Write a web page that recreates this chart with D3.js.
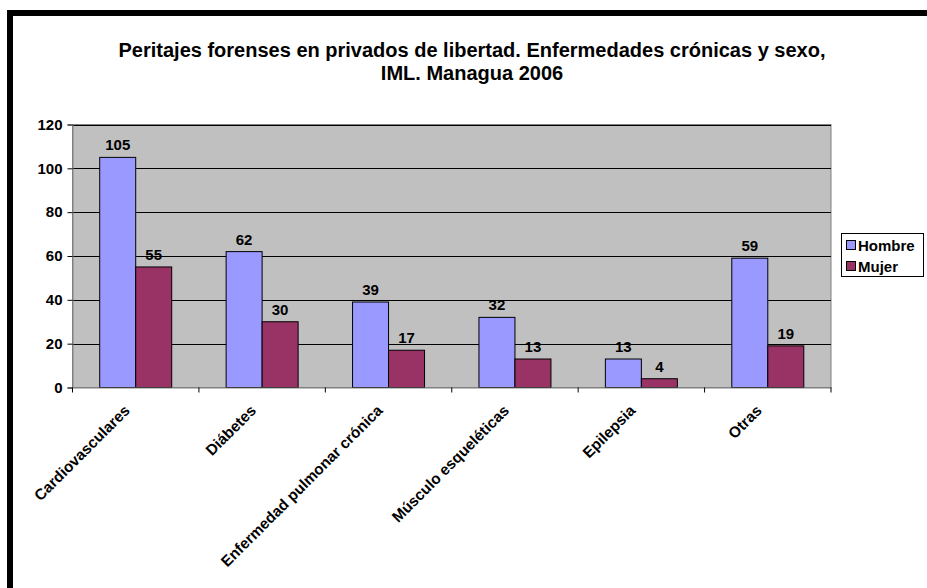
<!DOCTYPE html>
<html><head><meta charset="utf-8">
<script src="https://cdn.jsdelivr.net/npm/d3@7"></script>
<style>
body{margin:0;background:#fff;}
text{font-family:"Liberation Sans",Arial,sans-serif;font-weight:bold;}
</style></head>
<body><svg id="c" width="927" height="588"></svg>
<script>
const categories = ["Cardiovasculares","Diábetes","Enfermedad pulmonar crónica","Músculo esqueléticas","Epilepsia","Otras"];
const hombre = [105,62,39,32,13,59];
const mujer = [55,30,17,13,4,19];
const seriesNames = ["Hombre","Mujer"];
const seriesColors = ["#9999FF","#993366"];
const yTicks = [0,20,40,60,80,100,120];
const titleLines = ["Peritajes forenses en privados de libertad. Enfermedades crónicas y sexo,","IML. Managua 2006"];

const svg = d3.select("#c");
// frame
svg.append("rect").attr("x",7).attr("y",10).attr("width",920).attr("height",6).attr("fill","#000");
svg.append("rect").attr("x",7).attr("y",10).attr("width",6).attr("height",578).attr("fill","#000");

const L=72.5, R=831, T=124.5, B=387.5;
const x = d3.scaleBand().domain(categories).range([L,R]).paddingInner(0).paddingOuter(0);
const y = d3.scaleLinear().domain([0,120]).range([B,T]);
const sub = d3.scaleBand().domain(seriesNames).range([0,72]);

svg.append("rect").attr("x",L).attr("y",T).attr("width",R-L).attr("height",B-T).attr("fill","#C0C0C0").attr("stroke","#808080").attr("stroke-width",1);

// gridlines
svg.append("g").selectAll("line").data(yTicks.filter(d=>d>0)).join("line")
  .attr("x1",L).attr("x2",R).attr("y1",d=>Math.round(y(d))+0.5).attr("y2",d=>Math.round(y(d))+0.5)
  .attr("stroke","#000").attr("stroke-width",1);

// y axis
const ya = svg.append("g").attr("transform",`translate(${L},0)`)
  .call(d3.axisLeft(y).tickValues(yTicks).tickSize(5).tickPadding(5));
ya.select(".domain").attr("stroke","#808080");
ya.selectAll(".tick line").attr("stroke","#000");
ya.selectAll("text").attr("font-size",15).attr("fill","#000").attr("font-family","Liberation Sans, Arial").attr("font-weight","bold");

// bars
const data = categories.map((c,i)=>({c, vals:[hombre[i],mujer[i]]}));
const groups = svg.append("g").selectAll("g").data(data).join("g")
  .attr("transform",d=>`translate(${x(d.c)+x.bandwidth()/2-36},0)`);
groups.selectAll("rect").data(d=>d.vals.map((v,j)=>({v,s:seriesNames[j],j}))).join("rect")
  .attr("x",d=>sub(d.s)).attr("width",sub.bandwidth())
  .attr("y",d=>y(d.v)).attr("height",d=>B-y(d.v))
  .attr("fill",d=>seriesColors[d.j]).attr("stroke","#000").attr("stroke-width",1);
groups.selectAll("text").data(d=>d.vals.map((v,j)=>({v,s:seriesNames[j],j}))).join("text")
  .attr("x",d=>sub(d.s)+sub.bandwidth()/2).attr("y",d=>y(d.v)-7)
  .attr("text-anchor","middle").attr("font-size",15).attr("fill","#000").text(d=>d.v);

// x axis
const xa = svg.append("g").attr("transform",`translate(0,${B})`)
  .call(d3.axisBottom(x).tickSize(0).tickFormat(""));
xa.select(".domain").attr("stroke","#808080");
svg.append("g").selectAll("line").data(d3.range(categories.length+1)).join("line")
  .attr("x1",i=>L+i*x.bandwidth()).attr("x2",i=>L+i*x.bandwidth())
  .attr("y1",B).attr("y2",B+5).attr("stroke","#000");
svg.append("g").selectAll("text").data(categories).join("text")
  .attr("transform",d=>`translate(${x(d)+x.bandwidth()/2-5},${B+24}) rotate(-45)`)
  .attr("text-anchor","end").attr("font-size",15.3).attr("fill","#000").text(d=>d);

// title
svg.append("g").selectAll("text").data(titleLines).join("text")
  .attr("x",472).attr("y",(d,i)=>57+i*23).attr("text-anchor","middle")
  .attr("font-size",20).attr("fill","#000").text(d=>d);

// legend
const lg = svg.append("g");
lg.append("rect").attr("x",841.5).attr("y",233.5).attr("width",82).attr("height",43).attr("fill","#fff").attr("stroke","#000");
seriesNames.forEach((s,i)=>{
  lg.append("rect").attr("x",846.5).attr("y",240.5+i*21).attr("width",9).attr("height",9).attr("fill",seriesColors[i]).attr("stroke","#000");
  lg.append("text").attr("x",858).attr("y",250.5+i*21).attr("font-size",15).attr("fill","#000").text(s);
});
</script></body></html>
